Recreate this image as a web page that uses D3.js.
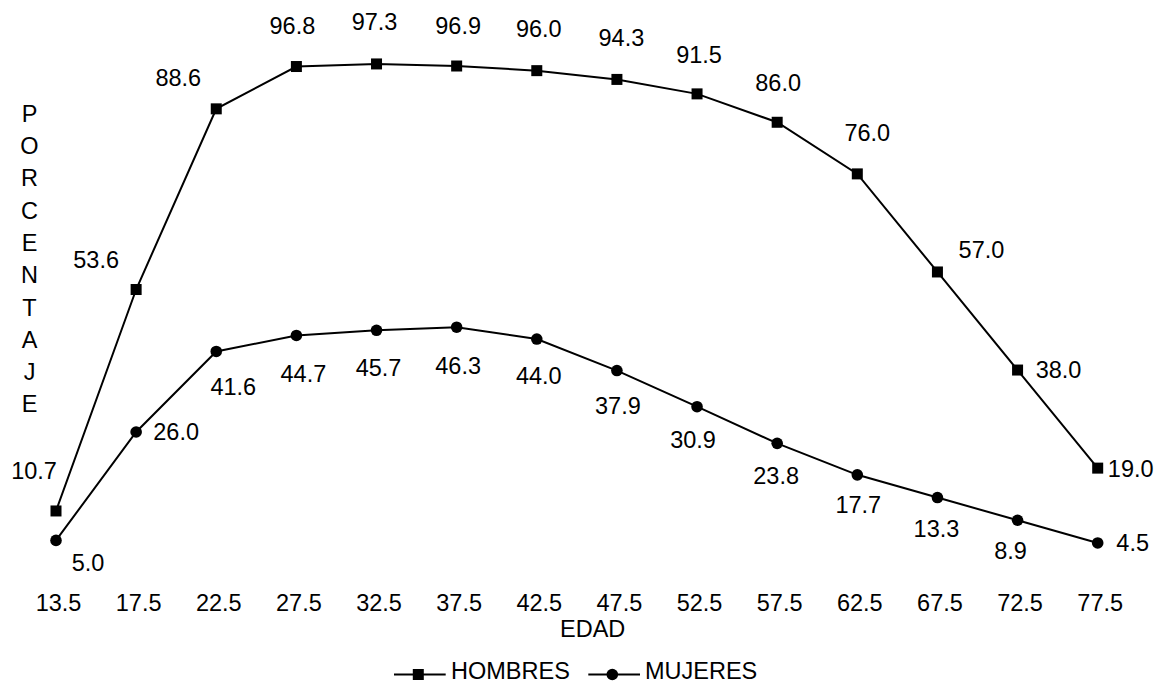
<!DOCTYPE html>
<html>
<head>
<meta charset="utf-8">
<script src="https://cdn.jsdelivr.net/npm/d3@7"></script>
<style>
  html, body { margin: 0; padding: 0; background: #fff; }
  svg { display: block; font-family: Arial, "Liberation Sans", sans-serif; }
</style>
</head>
<body>
<div id="chart"></div>
<script>
// ---- data ----
const edades = ["13.5","17.5","22.5","27.5","32.5","37.5","42.5","47.5","52.5","57.5","62.5","67.5","72.5","77.5"];
const hombres = [10.7, 53.6, 88.6, 96.8, 97.3, 96.9, 96.0, 94.3, 91.5, 86.0, 76.0, 57.0, 38.0, 19.0];
const mujeres = [5.0, 26.0, 41.6, 44.7, 45.7, 46.3, 44.0, 37.9, 30.9, 23.8, 17.7, 13.3, 8.9, 4.5];
const seriesNames = ["HOMBRES", "MUJERES"];
const yTitle = "PORCENTAJE";
const xTitle = "EDAD";

// ---- label placement (offset of label centre from the point, px) ----
const hombresLabelOffset = [[-22,-40],[-40,-30],[-38,-31],[-4,-41],[-2,-42],[1.5,-40],[2,-42],[4.5,-42],[2,-39],[1,-40],[10,-41],[44,-22],[41,0],[33,0]];
const mujeresLabelOffset = [[32,22],[40,0],[17,35],[7,38],[2,37],[1.5,38.5],[2,37],[1,35],[-4,33],[-1,32],[1,30],[-1,31],[-7,30],[35,0]];

const W = 1159, H = 684;
const FS = 23.5;
const capShift = FS * 0.358; // baseline offset from visual centre of digits/caps

const svg = d3.select("#chart").append("svg").attr("width", W).attr("height", H);

const x = d3.scalePoint().domain(edades).range([56, 1097.7]);
const y = d3.scaleLinear().domain([0, 100]).range([566.2, 50]);

const fmt = d3.format(".1f");

// x tick labels via axis (no line, no ticks)
const xAxis = d3.axisBottom(x).tickSize(0).tickPadding(0);
const gx = svg.append("g").attr("transform", "translate(2,0)").call(xAxis);
gx.select(".domain").remove();
gx.selectAll("text")
  .attr("y", 602.3 + capShift).attr("dy", null)
  .attr("font-size", FS).attr("font-family", "Arial, 'Liberation Sans', sans-serif")
  .attr("fill", "#000");

// x title
svg.append("text").attr("x", 592.7).attr("y", 628.3 + capShift)
  .attr("text-anchor", "middle").attr("font-size", FS).attr("fill", "#000").text(xTitle);

// y title (stacked letters)
const letters = yTitle.split("");
const yl = d3.scaleLinear().domain([0, letters.length - 1]).range([113.3, 404]);
svg.append("g").selectAll("text").data(letters).join("text")
  .attr("x", 29.5).attr("y", (d, i) => yl(i) + capShift)
  .attr("text-anchor", "middle").attr("font-size", FS).attr("fill", "#000")
  .text(d => d);

const line = d3.line().x((d, i) => x(edades[i])).y(d => y(d));

function drawSeries(vals, offsets, marker) {
  const g = svg.append("g");
  g.append("path").datum(vals).attr("d", line)
    .attr("fill", "none").attr("stroke", "#000").attr("stroke-width", 2);
  if (marker === "square") {
    g.selectAll("rect").data(vals).join("rect")
      .attr("x", (d, i) => x(edades[i]) - 5.5).attr("y", d => y(d) - 5.5)
      .attr("width", 11).attr("height", 11).attr("fill", "#000");
  } else {
    g.selectAll("circle").data(vals).join("circle")
      .attr("cx", (d, i) => x(edades[i])).attr("cy", d => y(d))
      .attr("r", 5.8).attr("fill", "#000");
  }
  g.selectAll("text").data(vals).join("text")
    .attr("x", (d, i) => x(edades[i]) + offsets[i][0])
    .attr("y", (d, i) => y(d) + offsets[i][1] + capShift)
    .attr("text-anchor", "middle").attr("font-size", FS).attr("fill", "#000")
    .text(d => fmt(d));
}

drawSeries(hombres, hombresLabelOffset, "square");
drawSeries(mujeres, mujeresLabelOffset, "circle");

// legend
const legY = 674.5;
const legTextY = 671 + capShift;
const leg = svg.append("g");
// HOMBRES
leg.append("line").attr("x1", 394).attr("x2", 445.7).attr("y1", legY).attr("y2", legY)
  .attr("stroke", "#000").attr("stroke-width", 2);
leg.append("rect").attr("x", 418.3 - 5.5).attr("y", legY - 5.5).attr("width", 11).attr("height", 11).attr("fill", "#000");
leg.append("text").attr("x", 451).attr("y", legTextY).attr("font-size", FS).attr("fill", "#000").text(seriesNames[0]);
// MUJERES
leg.append("line").attr("x1", 588.3).attr("x2", 640).attr("y1", legY).attr("y2", legY)
  .attr("stroke", "#000").attr("stroke-width", 2);
leg.append("circle").attr("cx", 612.3).attr("cy", legY).attr("r", 5.8).attr("fill", "#000");
leg.append("text").attr("x", 645).attr("y", legTextY).attr("font-size", FS).attr("fill", "#000").text(seriesNames[1]);
</script>
</body>
</html>
